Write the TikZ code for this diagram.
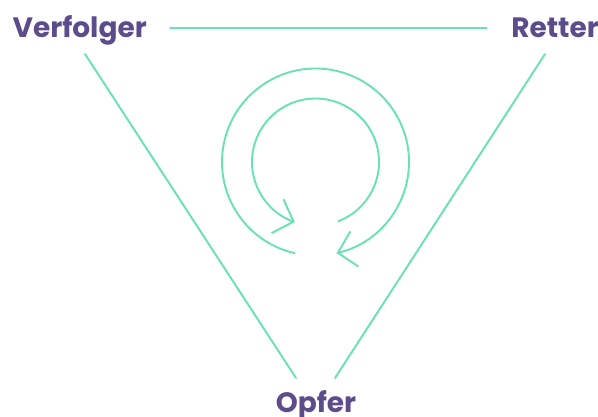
\documentclass[tikz,border=0pt]{standalone}
\usepackage{fontspec}
\setmainfont{Poppins}
\usetikzlibrary{arrows.meta}
\definecolor{mint}{RGB}{104,226,178}
\definecolor{violet}{RGB}{92,76,140}
\tikzset{
  role/.style={text=violet, font=\bfseries\fontsize{28}{32}\selectfont, inner sep=0pt, anchor=base},
  edge/.style={draw=mint, line width=1.9pt, line cap=round},
  cyc/.style={draw=mint, line width=1.9pt, line cap=round, -{Straight Barb[length=17pt, width=36pt, line width=1.9pt]}}
}
\begin{document}
\begin{tikzpicture}[x=1pt, y=-1pt]
\useasboundingbox (0,0) rectangle (598,416);
\node[role] (verfolger) at (79.7,37) {Verfolger};
\node[role] (retter) at (555,37) {Retter};
\node[role] (opfer) at (316,412) {Opfer};
\coordinate (tl) at (170,28.3);
\coordinate (tr) at (486.7,28.3);
\coordinate (la) at (85,54);
\coordinate (lb) at (296,378);
\coordinate (ra) at (545,54);
\coordinate (rb) at (335,378);
\draw[edge] (tl) -- (tr);
\draw[edge] (la) -- (lb);
\draw[edge] (ra) -- (rb);
\coordinate (c) at (315.5,162);
\draw[cyc] ([shift={(69:63.5)}]c) arc[start angle=69, end angle=-251, radius=63.5];
\draw[cyc] ([shift={(103:93.5)}]c) arc[start angle=103, end angle=437, radius=93.5];
\end{tikzpicture}
\end{document}
